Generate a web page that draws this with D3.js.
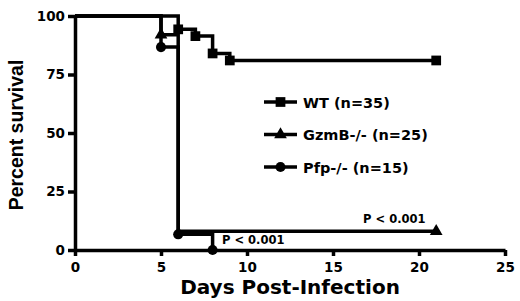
<!DOCTYPE html>
<html>
<head>
<meta charset="utf-8">
<title>Percent survival</title>
<script src="https://d3js.org/d3.v7.min.js"></script>
<style>
  body { margin: 0; background: #fff; }
  .tick text { font-family: "DejaVu Sans", sans-serif; font-weight: bold; font-size: 13.5px; fill: #000; }
  .axis path, .axis line { stroke: #000; stroke-width: 3.5; }
  .curve { fill: none; stroke: #000; stroke-width: 3.5; }
  .lab { font-family: "DejaVu Sans", sans-serif; font-weight: bold; fill: #000; }
</style>
</head>
<body>
<div id="chart"></div>
<script>
// survival data
const series = ["WT (n=35)", "GzmB-/- (n=25)", "Pfp-/- (n=15)"];
const wtDays = [0, 6, 7, 8, 9, 21];
const wtSurv = [100, 94.3, 91.4, 84, 81, 81];
const gzmbDays = [0, 5, 6, 21];
const gzmbSurv = [100, 92, 8, 8];
const pfpDays = [0, 5, 6, 8];
const pfpSurv = [100, 86.7, 6.7, 0];
// which points carry a symbol
const wtMarks = [6, 7, 8, 9, 21];
const gzmbMarks = [5, 21];
const pfpMarks = [5, 6, 8];
const xTicks = [0, 5, 10, 15, 20, 25];
const yTicks = [0, 25, 50, 75, 100];
const pLabels = ["P < 0.001", "P < 0.001"];
const pDays = [16.75, 8.55];
const pVals = [11.5, 2.6];

const W = 520, H = 301;
const margin = {top: 16, right: 15, bottom: 51, left: 75};
const width = W - margin.left - margin.right;
const height = H - margin.top - margin.bottom;

const svg = d3.select("#chart").append("svg")
  .attr("width", W).attr("height", H);
const g = svg.append("g")
  .attr("transform", `translate(${margin.left},${margin.top})`);

const x = d3.scaleLinear().domain([0, 25]).range([0, width]);
const y = d3.scaleLinear().domain([0, 100]).range([height, 0]);

// axes
g.append("g").attr("class", "axis")
  .attr("transform", `translate(0,${height})`)
  .call(d3.axisBottom(x).tickValues(xTicks).tickSize(6).tickPadding(6).tickSizeOuter(0));
g.append("g").attr("class", "axis")
  .call(d3.axisLeft(y).tickValues(yTicks).tickSize(7).tickPadding(3).tickSizeOuter(0));

// axis titles
g.append("text").attr("class", "lab")
  .attr("x", width / 2).attr("y", height + 44)
  .attr("text-anchor", "middle").style("font-size", "20px")
  .text("Days Post-Infection");
g.append("text")
  .attr("transform", "rotate(-90)")
  .attr("x", -(135 - margin.top)).attr("y", -52)
  .attr("text-anchor", "middle")
  .style("font-family", "'Liberation Sans', Arial, sans-serif")
  .style("font-weight", "bold").style("font-size", "19.5px")
  .text("Percent survival");

const line = d3.line().curve(d3.curveStepAfter)
  .x(d => x(d[0])).y(d => y(d[1]));

const groups = [
  {days: wtDays, surv: wtSurv, marks: wtMarks, sym: d3.symbolSquare, size: 95},
  {days: gzmbDays, surv: gzmbSurv, marks: gzmbMarks, sym: d3.symbolTriangle, size: 70},
  {days: pfpDays, surv: pfpSurv, marks: pfpMarks, sym: d3.symbolCircle, size: 80}
];

groups.forEach(s => {
  const pts = s.days.map((d, i) => [d, s.surv[i]]);
  g.append("path").datum(pts).attr("class", "curve").attr("d", line);
  g.selectAll(null)
    .data(pts.filter(p => s.marks.includes(p[0])))
    .enter().append("path")
    .attr("transform", p => `translate(${x(p[0])},${y(p[1])})`)
    .attr("d", d3.symbol().type(s.sym).size(s.size))
    .attr("fill", "#000");
});

// p-value notes
pLabels.forEach((t, i) => {
  g.append("text").attr("class", "lab")
    .attr("x", x(pDays[i])).attr("y", y(pVals[i]))
    .style("font-size", "11.5px")
    .text(t);
});

// legend
const legend = svg.append("g").attr("transform", "translate(264,102)");
series.forEach((name, i) => {
  const row = legend.append("g").attr("transform", `translate(0,${i * 32.5})`);
  row.append("line").attr("x1", 0).attr("x2", 33).attr("y1", 0).attr("y2", 0)
    .attr("stroke", "#000").attr("stroke-width", 3.5);
  row.append("path").attr("transform", "translate(16.5,0)")
    .attr("d", d3.symbol().type(groups[i].sym).size(groups[i].size))
    .attr("fill", "#000");
  row.append("text").attr("class", "lab")
    .attr("x", 39).attr("y", 5.5)
    .style("font-size", "14.5px")
    .text(name);
});
</script>
</body>
</html>
